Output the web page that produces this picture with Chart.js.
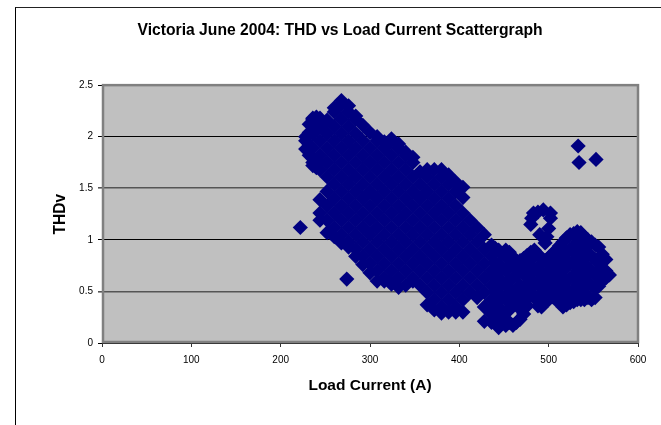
<!DOCTYPE html>
<html><head><meta charset="utf-8">
<script src="https://cdn.jsdelivr.net/npm/chart.js@4"></script>
<style>
html,body{margin:0;padding:0;background:#fff;overflow:hidden}
#wrap{position:relative;width:661px;height:425px}
#frame{position:absolute;left:15px;top:7px;right:0;bottom:0;border-left:1px solid #000;border-top:1px solid #222;pointer-events:none}
canvas{position:absolute;left:0;top:0}
</style></head><body>
<div id="wrap"><canvas id="c" width="661" height="425"></canvas><div id="frame"></div></div>
<script>
const chartTitle = "Victoria June 2004: THD vs Load Current Scattergraph";
const xTitle = "Load Current (A)";
const yTitle = "THDv";
const xTicks = [0,100,200,300,400,500,600];
const yTicks = [0,0.5,1,1.5,2,2.5];
const outlierLoad = [222,274,533,534,553];
const outlierThd = [1.12,0.62,1.91,1.75,1.78];
const hookLoad = [480,481,483,488,494,502,502,500,498,496,490];
const hookThd = [1.15,1.21,1.26,1.27,1.29,1.26,1.21,1.11,1.03,0.97,1.05];
const columnLoad = [228,232,236,240,244,252,260,268,276,284,292,300,308,316,324,332,340,348,356,364,372,380,388,396,404,412,420,428,436,440,444,448,452,456,460,464,468,472,476,480,484,488,492,496,500,504,508,512,516,520,524,528,532,536,540,544,548,552,556,560,564,568];
const columnThd = [
 [2.0,1.96,1.88],
 [2.12,2.04,1.92,1.82],
 [2.18,2.17,2.03,1.89,1.75,1.72],
 [2.19,1.7],
 [2.18,2.1,1.96,1.82,1.68,1.39,1.26,1.19],
 [2.16,2.03,1.89,1.75,1.61,1.47,1.33,1.19,1.07],
 [2.28,2.24,2.1,1.96,1.82,1.68,1.54,1.4,1.26,1.12,1.03],
 [2.35,2.31,2.17,2.03,1.89,1.75,1.61,1.47,1.33,1.19,1.05,0.97],
 [2.3,2.24,2.1,1.96,1.82,1.68,1.54,1.4,1.26,1.12,0.98,0.93],
 [2.2,2.17,2.03,1.89,1.75,1.61,1.47,1.33,1.19,1.05,0.91,0.84],
 [2.11,1.96,1.82,1.68,1.54,1.4,1.26,1.12,0.98,0.84,0.76],
 [2.04,1.89,1.75,1.61,1.47,1.33,1.19,1.05,0.91,0.77,0.68],
 [2.0,1.96,1.82,1.68,1.54,1.4,1.26,1.12,0.98,0.84,0.7,0.6],
 [1.95,1.89,1.75,1.61,1.47,1.33,1.19,1.05,0.91,0.77,0.63,0.6],
 [1.98,1.96,1.82,1.68,1.54,1.4,1.26,1.12,0.98,0.84,0.7,0.57],
 [1.93,1.89,1.75,1.61,1.47,1.33,1.19,1.05,0.91,0.77,0.63,0.54],
 [1.85,1.82,1.68,1.54,1.4,1.26,1.12,0.98,0.84,0.7,0.56],
 [1.8,1.75,1.61,1.47,1.33,1.19,1.05,0.91,0.77,0.63,0.6],
 [1.66,1.54,1.4,1.26,1.12,0.98,0.84,0.7,0.56],
 [1.68,1.61,1.47,1.33,1.19,1.05,0.91,0.77,0.63,0.49,0.37],
 [1.68,1.54,1.4,1.26,1.12,0.98,0.84,0.7,0.56,0.42,0.32],
 [1.68,1.61,1.47,1.33,1.19,1.05,0.91,0.77,0.63,0.49,0.35,0.29],
 [1.63,1.54,1.4,1.26,1.12,0.98,0.84,0.7,0.56,0.42,0.3],
 [1.56,1.47,1.33,1.19,1.05,0.91,0.77,0.63,0.49,0.35,0.3],
 [1.51,1.41,1.26,1.12,0.98,0.84,0.7,0.56,0.42,0.3],
 [1.19,1.05,0.91,0.77,0.63,0.49],
 [1.12,0.98,0.84,0.7,0.56,0.44],
 [1.05,0.91,0.77,0.63,0.49,0.35,0.21],
 [0.95,0.84,0.7,0.56,0.42,0.28,0.2],
 [0.92,0.78,0.64,0.5,0.36,0.22],
 [0.9,0.77,0.63,0.49,0.35,0.21,0.15],
 [0.87,0.72,0.58,0.44,0.3,0.2],
 [0.9,0.84,0.7,0.56,0.42,0.3,0.17],
 [0.88,0.74,0.6,0.46,0.32,0.2],
 [0.83,0.77,0.63,0.49,0.37,0.17],
 [0.8,0.66,0.52,0.38,0.2],
 [0.8,0.7,0.56,0.42,0.33,0.23],
 [0.82,0.68,0.54,0.4,0.28],
 [0.85,0.77,0.63,0.49,0.36],
 [0.88,0.74,0.6,0.46],
 [0.9,0.84,0.7,0.56,0.44],
 [0.86,0.72,0.58,0.44,0.36],
 [0.82,0.77,0.63,0.49,0.35],
 [0.8,0.66,0.52,0.4],
 [0.83,0.7,0.56,0.42],
 [0.86,0.72,0.58,0.45],
 [0.9,0.77,0.63,0.49,0.42],
 [0.94,0.8,0.66,0.52,0.4],
 [0.98,0.84,0.7,0.56,0.42,0.35],
 [1.02,0.88,0.74,0.6,0.46,0.37],
 [1.05,0.91,0.77,0.63,0.49,0.39],
 [1.06,0.92,0.78,0.64,0.5,0.4],
 [1.08,0.98,0.84,0.7,0.56,0.42],
 [1.07,0.93,0.79,0.65,0.51,0.42],
 [1.03,0.91,0.77,0.63,0.49,0.42],
 [1.0,0.86,0.72,0.58,0.44],
 [0.98,0.84,0.7,0.56,0.42],
 [0.95,0.81,0.67,0.53,0.44],
 [0.93,0.77,0.63,0.55],
 [0.86,0.72,0.6],
 [0.81,0.7,0.63],
 [0.66]
];

const points = [];
columnLoad.forEach((x,i)=>columnThd[i].forEach(y=>points.push({x,y})));
hookLoad.forEach((x,i)=>points.push({x,y:hookThd[i]}));
outlierLoad.forEach((x,i)=>points.push({x,y:outlierThd[i]}));

const FONT = '"Liberation Sans", Arial, sans-serif';
const plotFrame = {
  id:'plotFrame',
  beforeDraw(c){
    const {ctx,chartArea:a}=c;
    ctx.save();ctx.fillStyle='#c0c0c0';ctx.fillRect(a.left,a.top,a.right-a.left,a.bottom-a.top);ctx.restore();
  },
  beforeDatasetsDraw(c){
    const {ctx,chartArea:a}=c;
    ctx.save();ctx.strokeStyle='#808080';ctx.lineWidth=2.5;
    ctx.strokeRect(a.left+1,a.top,a.right-a.left-1,a.bottom-a.top-1);ctx.restore();
  }
};
new Chart(document.getElementById('c'),{
  type:'scatter',
  data:{datasets:[{label:'THDv',data:points,pointStyle:'rectRot',pointRadius:7.6,pointHoverRadius:7.6,
    backgroundColor:'#000080',borderColor:'#000080',borderWidth:0}]},
  plugins:[plotFrame],
  options:{
    responsive:false,animation:false,
    layout:{padding:{left:42,right:23,top:0,bottom:30}},
    plugins:{
      legend:{display:false},tooltip:{enabled:false},
      title:{display:true,text:chartTitle,color:'#000',font:{family:FONT,size:15.7,weight:'bold'},padding:{top:21.6,bottom:44.7}}
    },
    scales:{
      x:{type:'linear',min:0,max:600,
        afterFit(s){s.height=52;},
        afterBuildTicks(s){s.ticks=xTicks.map(value=>({value}));},
        grid:{drawOnChartArea:false,color:'#333',tickLength:4},
        border:{color:'#222',width:1},
        ticks:{color:'#000',font:{family:FONT,size:10},padding:7,maxRotation:0,callback:v=>String(v)},
        title:{display:true,text:xTitle,color:'#000',font:{family:FONT,size:15.5,weight:'bold'},padding:{top:0,bottom:0}}
      },
      y:{type:'linear',min:0,max:2.5,
        afterFit(s){s.width=60;},
        afterBuildTicks(s){s.ticks=yTicks.map(value=>({value}));},
        grid:{color:c=>(c.tick.value===1.5||c.tick.value===0.5)?'#555':'#000',
              lineWidth:c=>(c.tick.value===1.5||c.tick.value===0.5)?1.6:1,tickLength:4},
        border:{color:'#222',width:1},
        ticks:{color:'#000',font:{family:FONT,size:10},padding:5,callback:v=>String(v)},
        title:{display:true,text:yTitle,color:'#000',font:{family:FONT,size:15.6,weight:'bold'},padding:{top:9,bottom:0}}
      }
    }
  }
});
</script></body></html>
